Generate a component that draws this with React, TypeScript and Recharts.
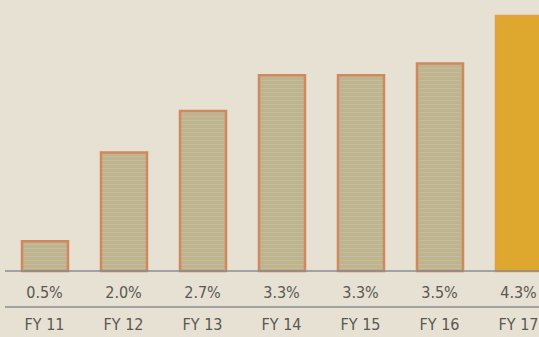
import React from "react";
import { BarChart, Bar, XAxis, YAxis, Cell } from "recharts";

const years = ["FY 11", "FY 12", "FY 13", "FY 14", "FY 15", "FY 16", "FY 17"];
const growth = [0.5, 2.0, 2.7, 3.3, 3.3, 3.5, 4.3];
const pctLabels = ["0.5%", "2.0%", "2.7%", "3.3%", "3.3%", "3.5%", "4.3%"];

const data = years.map((fy, i) => ({ fy, value: growth[i], pct: pctLabels[i] }));

const FONT = "'DejaVu Sans Condensed', 'Liberation Sans Narrow', sans-serif";
const tickStyle = { fill: "#595854", fontSize: 16, fontFamily: FONT, fontStretch: "condensed" };

const App = () => {
  return (
    <div
      style={{
        position: "absolute",
        left: 0,
        top: 0,
        width: 539,
        height: 337,
        overflow: "hidden",
        background: "#e6e1d2",
      }}
    >
      <BarChart
        width={560}
        height={337}
        data={data}
        margin={{ top: 16, right: 2, left: 5, bottom: 0 }}
        barCategoryGap={33}
      >
        <defs>
          <pattern id="stripes" width="6" height="4" patternUnits="userSpaceOnUse">
            <rect width="6" height="4" fill="#beb48f" />
            <rect width="6" height="1" fill="#c5bc9a" />
          </pattern>
        </defs>
        <YAxis hide domain={[0, 4.3]} />
        {/* row1: growth percentages right under the baseline */}
        <XAxis
          xAxisId="row1"
          dataKey="pct"
          height={36}
          tickLine={false}
          tickSize={12}
          tickMargin={4}
          axisLine={{ stroke: "#8a8d93", strokeWidth: 1.5 }}
          tick={tickStyle}
        />
        {/* row2: fiscal years under the second rule */}
        <XAxis
          xAxisId="row2"
          dataKey="fy"
          height={30}
          tickLine={false}
          tickSize={8}
          tickMargin={4}
          axisLine={{ stroke: "#8a8d93", strokeWidth: 1.5 }}
          tick={tickStyle}
        />
        <Bar
          dataKey="value"
          xAxisId="row1"
          barSize={46}
          fill="url(#stripes)"
          stroke="#d0885e"
          strokeWidth={2.5}
          isAnimationActive={false}
        >
          {data.map((d, i) => (
            <Cell
              key={d.fy}
              fill={i === data.length - 1 ? "#dea82f" : "url(#stripes)"}
              stroke={i === data.length - 1 ? "#e3a040" : "#d0885e"}
            />
          ))}
        </Bar>
      </BarChart>
    </div>
  );
};

export default App;
